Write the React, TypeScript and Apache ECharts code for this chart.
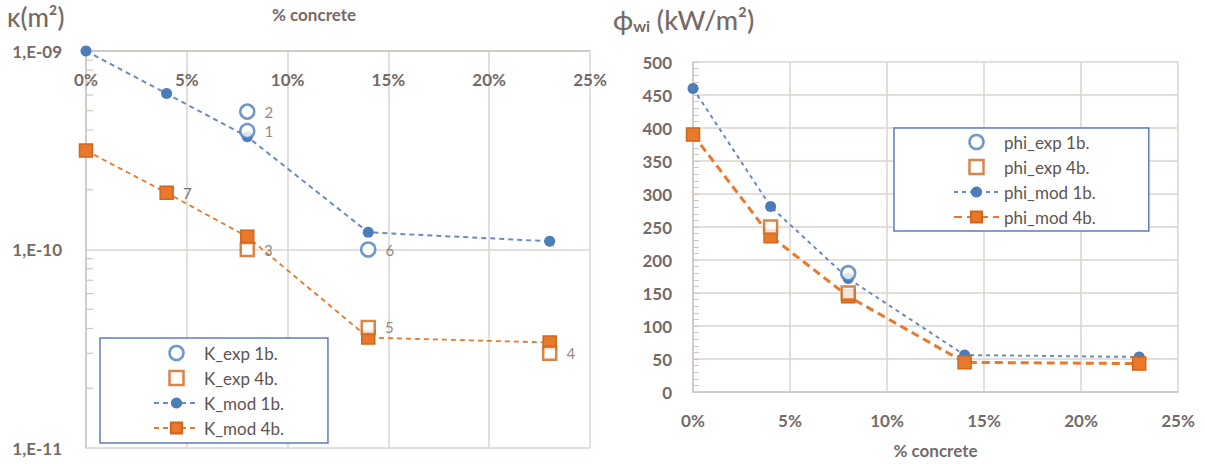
import React, { useEffect, useRef } from "react";
import * as echarts from "echarts";

// ---------- data ----------
const concretePct = [0, 4, 8, 14, 23];

// Left chart: permeability κ (m²), log scale
const kMod1b = [1.0e-9, 6.1e-10, 3.7e-10, 1.22e-10, 1.1e-10];
const kMod4b = [3.15e-10, 1.93e-10, 1.16e-10, 3.6e-11, 3.4e-11];
const kMod4bLabels = ["", "7", "", "", ""];
const kExp1bX = [8, 8, 14];
const kExp1b = [4.95e-10, 3.95e-10, 1.0e-10];
const kExp1bLabels = ["2", "1", "6"];
const kExp4bX = [8, 14, 23];
const kExp4b = [1.0e-10, 4.05e-11, 3.0e-11];
const kExp4bLabels = ["3", "5", "4"];
const kMinorTicks = [
  2e-11, 3e-11, 4e-11, 5e-11, 6e-11, 7e-11, 8e-11, 9e-11,
  2e-10, 3e-10, 4e-10, 5e-10, 6e-10, 7e-10, 8e-10, 9e-10,
];

// Right chart: heat flux φwi (kW/m²)
const phiMod1b = [460, 281, 172, 56, 53];
const phiMod4b = [390, 236, 145, 45, 43];
const phiExp1bX = [8];
const phiExp1b = [180];
const phiExp4bX = [4, 8];
const phiExp4b = [250, 150];

const kLegend = ["K_exp 1b.", "K_exp 4b.", "K_mod 1b.", "K_mod 4b."];
const phiLegend = ["phi_exp 1b.", "phi_exp 4b.", "phi_mod 1b.", "phi_mod 4b."];

// ---------- styles ----------
const FONT = "Lato, 'Open Sans', sans-serif";
const TXT = "#756a67";
const GRID = "#dcd4d1";
const BLUE = "#4c7db8";
const BLUE_LINE = "#6a8bbd";
const ORANGE = "#e8782a";
const ORANGE_DARK = "#d0651c";
const LEG_BORDER = "#5d7cbd";

const zip = (xs: number[], ys: number[]) => xs.map((x, i) => [x, ys[i]]);

export default function App() {
  const ref = useRef<HTMLDivElement>(null);
  useEffect(() => {
    const chart = echarts.init(ref.current!, undefined, { renderer: "svg" });
    const pctFmt = (v: number) => `${Math.round(v)}%`;
    const expFmt = (v: number) => {
      const e = Math.round(Math.log10(v));
      const a = Math.abs(e);
      return `1,E-${a < 10 ? "0" + a : a}`;
    };
    const lbl = (arr: string[]) => ({
      show: true,
      position: "right",
      distance: 9,
      color: TXT,
      fontSize: 15,
      fontFamily: FONT,
      formatter: (p: any) => arr[p.dataIndex] || "",
    });
    const legendItems = (names: string[]) =>
      names.map((n, i) =>
        i === 0
          ? { name: n, icon: "circle", itemStyle: { color: "#fff", borderColor: BLUE, borderWidth: 2.5 } }
          : i === 1
          ? {
              name: n,
              icon: "path://M0,0 L10,0 L10,10 L0,10 Z",
              itemStyle: { color: "#fff", borderColor: ORANGE_DARK, borderWidth: 2.5 },
            }
          : { name: n }
      );
    const legendBase = {
      orient: "vertical",
      itemWidth: 45,
      itemHeight: 14,
      itemGap: 7,
      borderColor: LEG_BORDER,
      borderWidth: 1.5,
      backgroundColor: "#ffffff",
      textStyle: { color: "#5e5451", fontSize: 17, lineHeight: 18, fontFamily: FONT },
    };
    const axisLabelStyle = {
      color: TXT,
      fontSize: 17,
      fontWeight: "bold",
      fontFamily: FONT,
    };
    const option: any = {
      animation: false,
      backgroundColor: "#ffffff",
      textStyle: { fontFamily: FONT },
      grid: [
        { left: 86, top: 51, width: 504, height: 397 },
        { left: 693, top: 62, width: 485, height: 331 },
      ],
      xAxis: [
        {
          gridIndex: 0,
          type: "value",
          position: "top",
          min: 0,
          max: 25,
          interval: 5,
          axisLine: { show: true, lineStyle: { color: "#cfc6c2", width: 1.5 } },
          axisTick: { show: false },
          axisLabel: { inside: true, margin: 20, formatter: pctFmt, ...axisLabelStyle },
          splitLine: { show: true, lineStyle: { color: GRID, width: 1.5 } },
        },
        {
          gridIndex: 1,
          type: "value",
          min: 0,
          max: 25,
          interval: 5,
          name: "% concrete",
          nameLocation: "middle",
          nameGap: 50,
          nameTextStyle: { ...axisLabelStyle },
          axisLine: { show: true, lineStyle: { color: "#cfc6c2", width: 1.5 } },
          axisTick: { show: false },
          axisLabel: { margin: 20, formatter: pctFmt, ...axisLabelStyle },
          splitLine: { show: true, lineStyle: { color: GRID, width: 1.5 } },
        },
      ],
      yAxis: [
        {
          gridIndex: 0,
          type: "log",
          logBase: 10,
          min: 1e-11,
          max: 1e-9,
          axisLine: { show: true, lineStyle: { color: "#cfc6c2", width: 1.5 } },
          axisTick: { show: false },
          axisLabel: { margin: 24, formatter: expFmt, ...axisLabelStyle },
          splitLine: { show: true, lineStyle: { color: GRID, width: 1.5 } },
        },
        {
          gridIndex: 1,
          type: "value",
          min: 0,
          max: 500,
          interval: 50,
          axisLine: { show: true, lineStyle: { color: "#cfc6c2", width: 1.5 } },
          axisTick: { show: true, inside: true, length: 6, lineStyle: { color: "#cfc6c2" } },
          minorTick: { show: true, splitNumber: 5, length: 6, lineStyle: { color: "#cfc6c2" } },
          axisLabel: { margin: 21, ...axisLabelStyle },
          splitLine: { show: true, lineStyle: { color: GRID, width: 1.5 } },
        },
      ],
      legend: [
        {
          ...legendBase,
          data: legendItems(kLegend),
          left: 100,
          top: 338,
          padding: [6, 44, 6, 53],
        },
        {
          ...legendBase,
          data: legendItems(phiLegend),
          left: 894,
          top: 128,
          padding: [5, 53, 5, 59],
        },
      ],
      graphic: [
        {
          type: "text",
          left: 7,
          top: 4,
          style: { text: "κ(m²)", fill: TXT, font: `500 26px ${FONT}` },
        },
        {
          type: "text",
          left: 272,
          top: 6,
          style: { text: "% concrete", fill: TXT, font: `bold 17px ${FONT}` },
        },
        {
          type: "text",
          left: 613,
          top: 6,
          style: {
            text: "{a|ϕ}{s|wi}{a| (kW/m²)}",
            rich: {
              a: { fill: TXT, fontSize: 27, fontFamily: FONT, fontWeight: 500 },
              s: { fill: TXT, fontSize: 16, fontFamily: FONT, fontWeight: "bold", padding: [12, 0, 0, 0] },
            },
          },
        },
      ],
      series: [
        // left: minor log ticks on the κ axis
        {
          type: "custom",
          xAxisIndex: 0,
          yAxisIndex: 0,
          silent: true,
          z: 1,
          data: kMinorTicks.map((v) => [0, v]),
          renderItem: (params: any, api: any) => {
            const p = api.coord([api.value(0), api.value(1)]);
            return {
              type: "line",
              shape: { x1: p[0], y1: p[1], x2: p[0] + 7, y2: p[1] },
              style: { stroke: "#cfc6c2", lineWidth: 1.2 },
            };
          },
        },
        {
          name: "K_mod 1b.",
          type: "line",
          xAxisIndex: 0,
          yAxisIndex: 0,
          data: zip(concretePct, kMod1b),
          symbol: "circle",
          symbolSize: 11,
          itemStyle: { color: BLUE },
          lineStyle: { color: BLUE_LINE, width: 2, type: [5, 4] },
          z: 2,
        },
        {
          name: "K_mod 4b.",
          type: "line",
          xAxisIndex: 0,
          yAxisIndex: 0,
          data: zip(concretePct, kMod4b),
          symbol: "rect",
          symbolSize: 13,
          itemStyle: { color: ORANGE, borderColor: ORANGE_DARK, borderWidth: 1.5 },
          lineStyle: { color: ORANGE, width: 1.8, type: [5, 4] },
          label: lbl(kMod4bLabels),
          z: 2,
        },
        {
          name: "K_exp 1b.",
          type: "scatter",
          xAxisIndex: 0,
          yAxisIndex: 0,
          data: zip(kExp1bX, kExp1b),
          symbol: "circle",
          symbolSize: 14,
          itemStyle: { color: "#ffffff", borderColor: BLUE, borderWidth: 2.5 },
          label: lbl(kExp1bLabels),
          z: 3,
        },
        {
          name: "K_exp 4b.",
          type: "scatter",
          xAxisIndex: 0,
          yAxisIndex: 0,
          data: zip(kExp4bX, kExp4b),
          symbol: "rect",
          symbolSize: 13,
          symbolKeepAspect: true,
          itemStyle: { color: "#ffffff", borderColor: ORANGE_DARK, borderWidth: 2.5 },
          label: lbl(kExp4bLabels),
          z: 3,
        },
        // right chart
        {
          name: "phi_mod 1b.",
          type: "line",
          xAxisIndex: 1,
          yAxisIndex: 1,
          data: zip(concretePct, phiMod1b),
          symbol: "circle",
          symbolSize: 11,
          itemStyle: { color: BLUE },
          lineStyle: { color: BLUE_LINE, width: 2, type: [4, 4] },
          z: 2,
        },
        {
          name: "phi_mod 4b.",
          type: "line",
          xAxisIndex: 1,
          yAxisIndex: 1,
          data: zip(concretePct, phiMod4b),
          symbol: "rect",
          symbolSize: 13,
          itemStyle: { color: ORANGE, borderColor: ORANGE_DARK, borderWidth: 1.5 },
          lineStyle: { color: ORANGE, width: 3, type: [8, 5] },
          z: 2,
        },
        {
          name: "phi_exp 1b.",
          type: "scatter",
          xAxisIndex: 1,
          yAxisIndex: 1,
          data: zip(phiExp1bX, phiExp1b),
          symbol: "circle",
          symbolSize: 14,
          itemStyle: { color: "#ffffff", borderColor: BLUE, borderWidth: 2.5 },
          z: 3,
        },
        {
          name: "phi_exp 4b.",
          type: "scatter",
          xAxisIndex: 1,
          yAxisIndex: 1,
          data: zip(phiExp4bX, phiExp4b),
          symbol: "rect",
          symbolSize: 13,
          symbolKeepAspect: true,
          itemStyle: { color: "#ffffff", borderColor: ORANGE_DARK, borderWidth: 2.5 },
          z: 3,
        },
      ],
    };
    chart.setOption(option);
    return () => chart.dispose();
  }, []);
  return (
    <div
      ref={ref}
      style={{ position: "absolute", left: 0, top: 0, width: 1205, height: 464, background: "#fff" }}
    />
  );
}
